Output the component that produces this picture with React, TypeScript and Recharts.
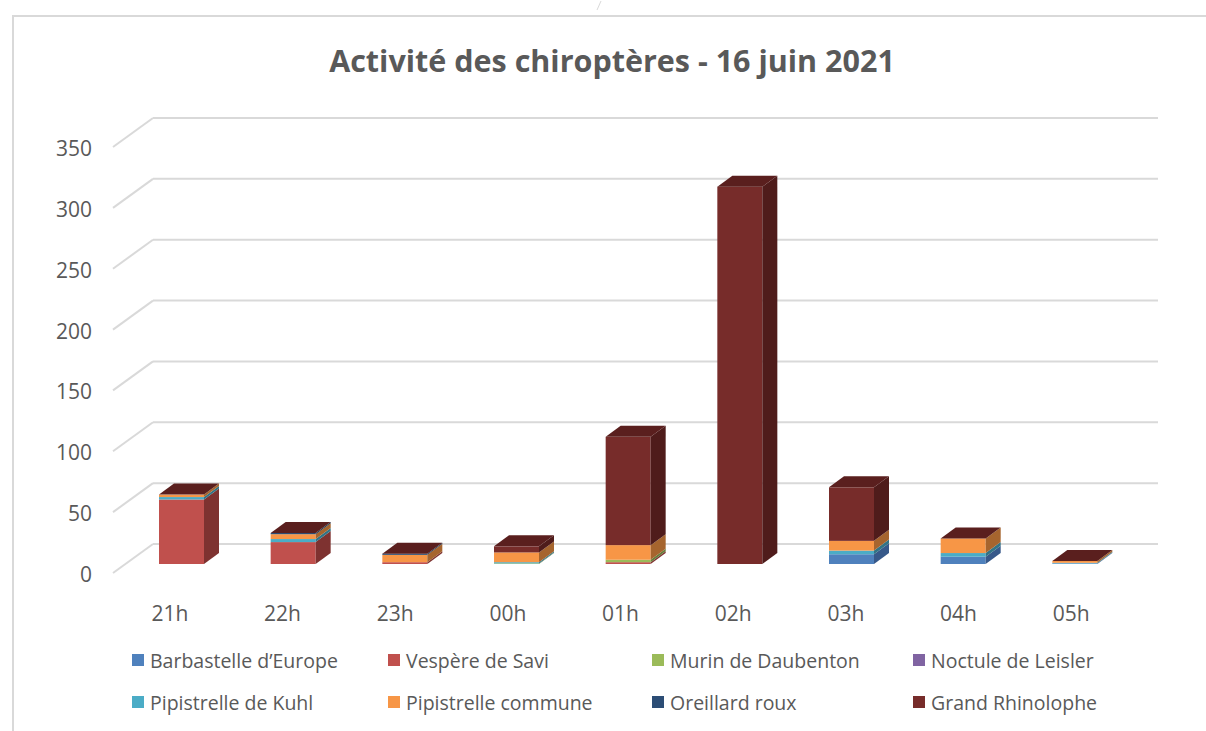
import React from 'react';
import { BarChart, Bar, XAxis, YAxis, CartesianGrid } from 'recharts';

// Activité des chiroptères - 16 juin 2021 (contacts par heure)
const hours = ['21h', '22h', '23h', '00h', '01h', '02h', '03h', '04h', '05h'];
const barbastelle = [0, 0, 0, 0, 0, 0, 8, 6, 0.5];
const vespere = [53, 18, 1.5, 0, 1.5, 0, 0, 0, 0];
const murin = [0, 0, 0, 0.5, 2, 0, 0, 0, 0];
const noctule = [0, 0, 0, 0, 0, 0, 0, 0, 0];
const kuhl = [2, 2.5, 0, 1, 0, 0, 3, 3, 0.5];
const commune = [2, 4, 6, 8, 12, 0, 8, 12, 1.5];
const oreillard = [0, 1, 1, 0, 0, 0, 0, 0, 0];
const rhinolophe = [0, 0, 0, 5, 89, 310, 44, 0, 0];
const yTicks = [0, 50, 100, 150, 200, 250, 300, 350];

const series = [
  { key: 'barbastelle', name: 'Barbastelle d\u2019Europe', color: '#4f81bd', side: '#37598a', values: barbastelle },
  { key: 'vespere', name: 'Vespère de Savi', color: '#c0504d', side: '#7e3230', values: vespere },
  { key: 'murin', name: 'Murin de Daubenton', color: '#9bbb59', side: '#677d3a', values: murin },
  { key: 'noctule', name: 'Noctule de Leisler', color: '#8064a2', side: '#56436d', values: noctule },
  { key: 'kuhl', name: 'Pipistrelle de Kuhl', color: '#4bacc6', side: '#327486', values: kuhl },
  { key: 'commune', name: 'Pipistrelle commune', color: '#f79646', side: '#a6652e', values: commune },
  { key: 'oreillard', name: 'Oreillard roux', color: '#2c4d75', side: '#1d334e', values: oreillard },
  { key: 'rhinolophe', name: 'Grand Rhinolophe', color: '#772c2a', side: '#4f1c1b', values: rhinolophe },
];

const data = hours.map((h, i) => {
  const row: Record<string, string | number> = { hour: h };
  series.forEach((s) => {
    row[s.key] = s.values[i];
  });
  return row;
});

const TEXT = '#595959';
const GRID = '#d9d9d9';
const FONT = '"Open Sans", sans-serif';
const DX = 15;
const DY = 11;

// fake 3D box: front face + right side (+ top on the last series)
const box3D = (front: string, side: string, withTop: boolean) => (props: any) => {
  const { x, y, width } = props;
  const height = Math.max(props.height || 0, 0);
  if (x == null || y == null) return <g />;
  if (height <= 0 && !withTop) return <g />;
  const r = x + width;
  return (
    <g>
      {height > 0 && <rect x={x} y={y} width={width} height={height} fill={front} />}
      {height > 0 && (
        <polygon
          points={`${r},${y} ${r + DX},${y - DY} ${r + DX},${y + height - DY} ${r},${y + height}`}
          fill={side}
        />
      )}
      {withTop && (
        <polygon
          points={`${x},${y} ${x + DX},${y - DY} ${r + DX},${y - DY} ${r},${y}`}
          fill="#5a1f1e"
        />
      )}
    </g>
  );
};

const gridLine = (props: any) => {
  const { x1, x2, y1, key } = props;
  return (
    <g key={key}>
      <line x1={113} y1={y1 + 9} x2={x1 + 27} y2={y1 - 20} stroke={GRID} strokeWidth={2} />
      <line x1={x1 + 27} y1={y1 - 20} x2={x2 + 27} y2={y1 - 20} stroke={GRID} strokeWidth={2} />
    </g>
  );
};

const YTick = (props: any) => {
  const { y, payload } = props;
  return (
    <text x={92} y={y + 10} textAnchor="end" dominantBaseline="central" fill={TEXT} fontSize={21} fontFamily={FONT}>
      {payload.value}
    </text>
  );
};

const XTick = (props: any) => {
  const { x, y, payload, index } = props;
  return (
    <text x={x - 12 + index} y={y + 41} textAnchor="middle" dominantBaseline="central" fill={TEXT} fontSize={21} fontFamily={FONT}>
      {payload.value}
    </text>
  );
};

const legendCols = [132, 388, 652, 913];

export default function App() {
  return (
    <div style={{ position: 'absolute', left: 0, top: 0, width: 1206, height: 731, background: '#fff', overflow: 'hidden' }}>
      <div
        style={{
          position: 'absolute',
          left: 12,
          top: 15,
          width: 1220,
          height: 760,
          borderTop: `2px solid ${GRID}`,
          borderLeft: `2px solid ${GRID}`,
        }}
      />
      <svg style={{ position: 'absolute', left: 0, top: 0 }} width={1206} height={20}>
        <line x1={597} y1={10} x2={601} y2={1} stroke={GRID} strokeWidth={1} />
      </svg>
      <div
        style={{
          position: 'absolute',
          left: 0,
          width: 1224,
          top: 40,
          textAlign: 'center',
          fontFamily: FONT,
          fontWeight: 700,
          fontSize: 30.5,
          color: TEXT,
          lineHeight: '40px',
        }}
      >
        Activité des chiroptères - 16 juin 2021
      </div>
      <div style={{ position: 'absolute', left: 0, top: 0 }}>
        <BarChart width={1206} height={731} data={data} margin={{ top: 138, right: 75, bottom: 0, left: 0 }}>
          <CartesianGrid vertical={false} horizontal={gridLine} />
          <XAxis dataKey="hour" height={167} axisLine={false} tickLine={false} tick={<XTick />} interval={0} />
          <YAxis width={126} domain={[0, 350]} ticks={yTicks} axisLine={false} tickLine={false} tick={<YTick />} interval={0} />
          {series.map((s, i) => (
            <Bar
              key={s.key}
              dataKey={s.key}
              name={s.name}
              stackId="a"
              barSize={45}
              fill={s.color}
              isAnimationActive={false}
              shape={box3D(s.color, s.side, i === series.length - 1)}
            />
          ))}
        </BarChart>
      </div>
      {series.map((s, i) => {
        const col = i % 4;
        const row = Math.floor(i / 4);
        return (
          <div
            key={s.key}
            style={{
              position: 'absolute',
              left: legendCols[col],
              top: 660 + row * 42 - 13,
              height: 26,
              display: 'flex',
              alignItems: 'center',
              fontFamily: FONT,
              fontSize: 19.5,
              color: TEXT,
              whiteSpace: 'nowrap',
            }}
          >
            <span style={{ display: 'inline-block', width: 12, height: 12, background: s.color, marginRight: 6 }} />
            {s.name}
          </div>
        );
      })}
    </div>
  );
}
